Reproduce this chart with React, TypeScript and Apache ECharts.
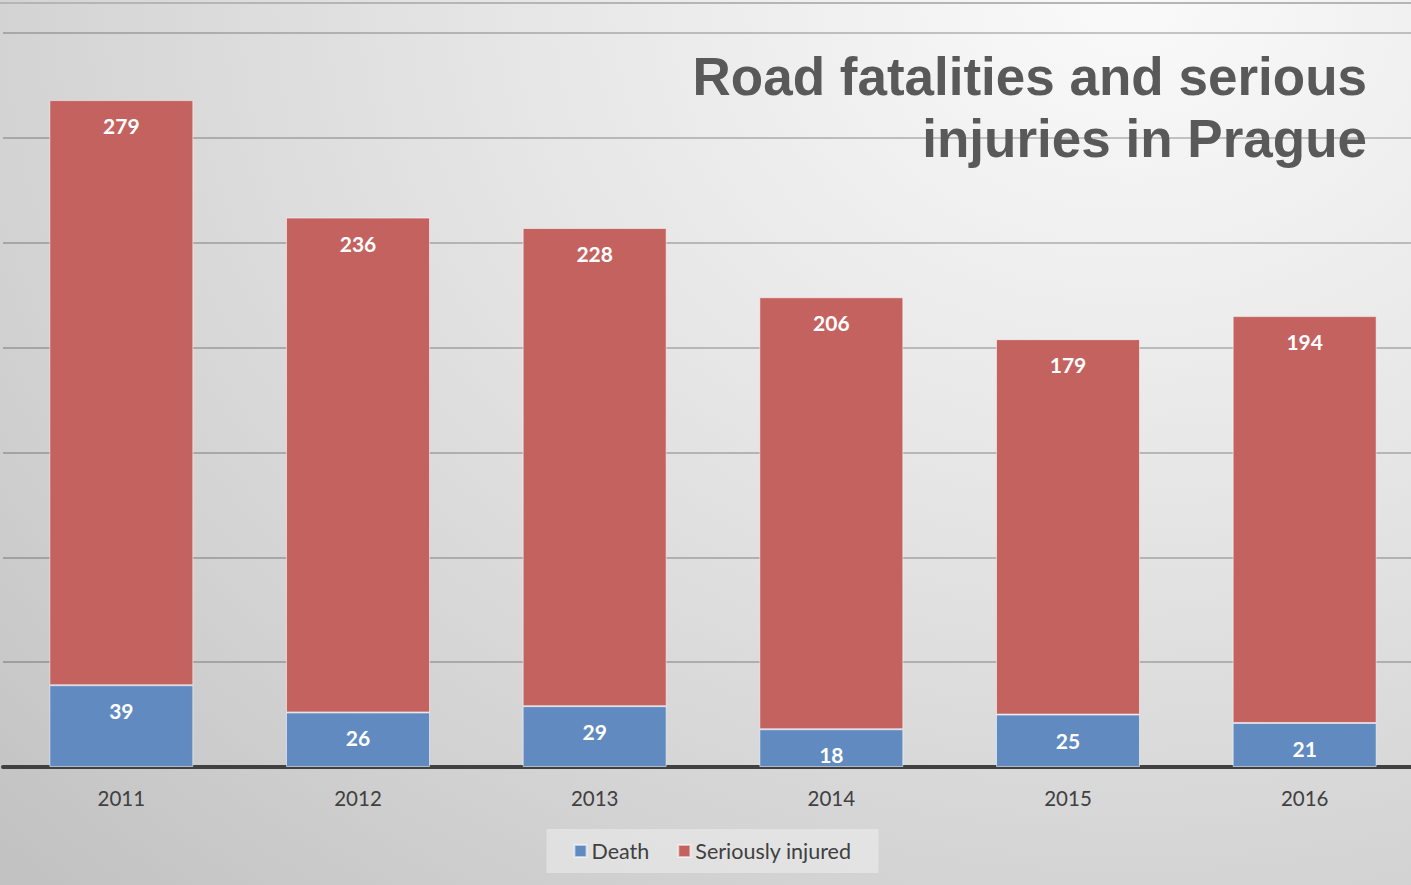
import React, { useEffect, useRef } from "react";
import * as echarts from "echarts";

const years = ["2011", "2012", "2013", "2014", "2015", "2016"];
const death = [39, 26, 29, 18, 25, 21];
const injured = [279, 236, 228, 206, 179, 194];
const titleLines = ["Road fatalities and serious", "injuries in Prague"];

export default function App() {
  const ref = useRef<HTMLDivElement>(null);
  useEffect(() => {
    if (!ref.current) return;
    const chart = echarts.init(ref.current, undefined, { renderer: "svg" });
    const labelStyle = {
      show: true,
      position: "insideTop" as const,
      distance: 15,
      color: "#ffffff",
      fontFamily: "Lato, 'Open Sans', sans-serif",
      fontWeight: "bold" as const,
      fontSize: 21,
    };
    const titleFont = {
      fontFamily: "'Liberation Sans', Arial, sans-serif",
      fontWeight: "bold" as const,
      fontSize: 53,
      fill: "#595959",
      textAlign: "right" as const,
      textVerticalAlign: "top" as const,
    };
    chart.setOption({
      animation: false,
      graphic: [
        {
          type: "line",
          shape: { x1: 0, y1: 3, x2: 1425, y2: 3 },
          style: { stroke: "#b5b5b5", lineWidth: 2 },
          z: 0,
        },
        {
          type: "text",
          x: 1367,
          y: 50,
          z: 10,
          style: { ...titleFont, text: titleLines[0] },
        },
        {
          type: "text",
          x: 1367,
          y: 112,
          z: 10,
          style: { ...titleFont, text: titleLines[1] },
        },
      ],
      legend: {
        bottom: 12,
        left: "center",
        itemWidth: 12,
        itemHeight: 12,
        itemGap: 28,
        padding: [11, 27],
        backgroundColor: "rgba(255,255,255,0.35)",
        icon: "rect",
        textStyle: {
          fontFamily: "Lato, 'Open Sans', sans-serif",
          fontSize: 21.5,
          color: "#404040",
        },
        data: ["Death", "Seriously injured"],
      },
      grid: { left: 3, right: 2, top: 33, bottom: 118 },
      xAxis: {
        type: "category",
        data: years,
        axisLine: { lineStyle: { color: "#404040", width: 4 } },
        axisTick: { show: false },
        axisLabel: {
          margin: 20,
          fontFamily: "Lato, 'Open Sans', sans-serif",
          fontSize: 20.5,
          color: "#404040",
        },
      },
      yAxis: {
        type: "value",
        min: 0,
        max: 350,
        interval: 50,
        axisLabel: { show: false },
        axisLine: { show: false },
        axisTick: { show: false },
        splitLine: { lineStyle: { color: "rgba(0,0,0,0.28)", width: 1.5 } },
      },
      series: [
        {
          name: "Death",
          type: "bar",
          stack: "total",
          data: death,
          barWidth: 144,
          itemStyle: {
            color: "#618bc0",
            borderColor: "rgba(255,255,255,0.55)",
            borderWidth: 1,
          },
          label: labelStyle,
        },
        {
          name: "Seriously injured",
          type: "bar",
          stack: "total",
          data: injured,
          barWidth: 144,
          itemStyle: {
            color: "#c4625f",
            borderColor: "rgba(255,255,255,0.55)",
            borderWidth: 1,
          },
          label: labelStyle,
        },
      ],
    });
    return () => chart.dispose();
  }, []);
  return (
    <div
      style={{
        position: "absolute",
        left: 0,
        top: 0,
        width: 1411,
        height: 885,
        overflow: "hidden",
        background:
          "radial-gradient(ellipse 110% 140% at 80% 0%, #fafafa 0%, #e6e6e6 40%, #d2d2d2 75%, #c2c2c2 100%)",
      }}
    >
      <div ref={ref} style={{ width: 1425, height: 885 }} />
    </div>
  );
}
